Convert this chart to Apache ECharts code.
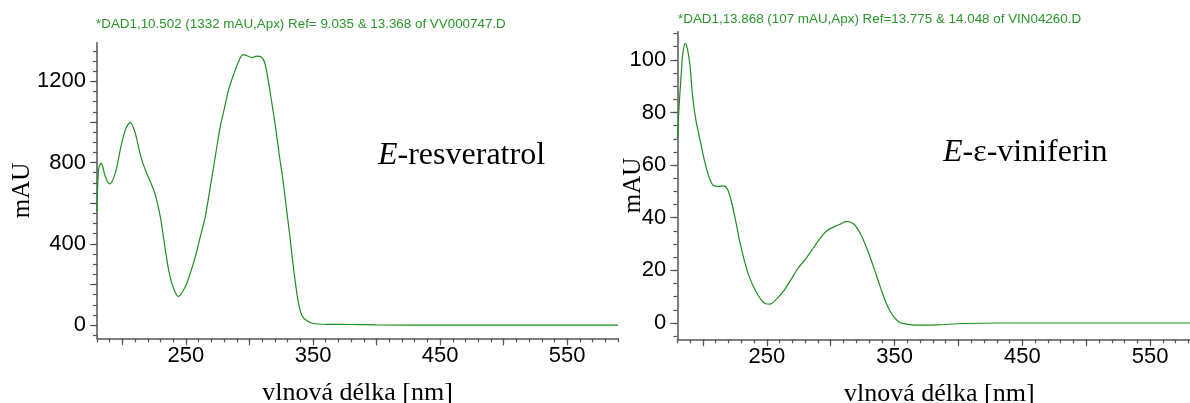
<!DOCTYPE html>
<html>
<head>
<meta charset="utf-8">
<script src="https://cdn.jsdelivr.net/npm/echarts@6.0.0/dist/echarts.min.js"></script>
<style>
  html, body { margin: 0; padding: 0; background: #fff; }
  #main { width: 1190px; height: 403px; }
</style>
</head>
<body>
<div id="main"></div>
<script>
// E-resveratrol spectrum (nm / mAU)
var resvNm = [180, 181.3, 183.4, 186.5, 189.9, 194.4, 198.3, 202.3, 206.2, 210.1, 214.1, 218, 221.9, 225.9, 229.8, 233, 236.4, 239.8, 244, 249.5, 253.4, 257.4, 261.3, 265.2, 269.2, 273.1, 277, 279.7, 283.6, 287.5, 291.5, 294.9, 298, 302, 305.9, 309, 311.8, 314.2, 317.6, 320.8, 323.6, 326.3, 328.9, 331.5, 333.9, 336.2, 338.6, 341.2, 345.2, 350.4, 360, 380, 400, 450, 500, 550, 590];
var resvAbs = [560, 770, 797, 731, 695, 748, 863, 961, 998, 945, 838, 764, 707, 641, 534, 403, 271, 189, 141, 189, 255, 337, 435, 534, 682, 830, 978, 1052, 1159, 1233, 1298, 1331, 1326, 1317, 1324, 1321, 1295, 1224, 1093, 961, 830, 715, 583, 452, 320, 205, 107, 49, 21, 8, 4, 3, 1, 0, 0, 0, 0];

// E-epsilon-viniferin spectrum (nm / mAU)
var vinNm = [180, 181.6, 183, 184.2, 186.3, 188.1, 190, 192, 194.6, 197.8, 201.1, 204.3, 207.7, 212.1, 216, 219.2, 222.6, 226, 229.1, 232.3, 236.2, 240.8, 245.2, 249.4, 252.5, 257.2, 262.9, 268.1, 274.6, 279.9, 286.4, 292.9, 298.1, 303.3, 307.2, 312.5, 317.8, 323, 328.2, 333.4, 338.7, 343.9, 349.1, 354.3, 362.1, 372.6, 383, 403.9, 430, 456, 500, 550, 590];
var vinAbs = [70, 84, 94, 102, 106.3, 103.8, 97.5, 86, 77, 69.6, 62, 56.3, 52.5, 51.9, 52.1, 50.9, 45.6, 38, 30.4, 24, 17.7, 12.6, 9.1, 7.3, 7.2, 8.9, 12, 15.8, 20.9, 24, 28.5, 32.9, 35.4, 36.7, 37.5, 38.6, 37.7, 34.2, 28.5, 21.5, 13.9, 7, 2.5, 0.2, -0.6, -0.8, -0.7, -0.2, 0, 0, 0, 0, 0];

// ticks and labels
var xLabels = [250, 350, 450, 550];
var xMajor = [200, 250, 300, 350, 400, 450, 500, 550];
var xMinor = [];
for (var v = 180; v <= 590; v += 10) xMinor.push(v);

var resvYLabels = [0, 400, 800, 1200];
var resvYMajor = [0, 200, 400, 600, 800, 1000, 1200];
var resvYMinor = [];
for (var a = -50; a <= 1350; a += 50) resvYMinor.push(a);

var vinYLabels = [0, 20, 40, 60, 80, 100];
var vinYMinor = [];
for (var b = -5; b <= 110; b += 5) vinYMinor.push(b);

var axisColor = '#555';
var lineColor = '#1e8f1e';
var sans = 'Liberation Sans, Arial, sans-serif';
var serif = 'Liberation Serif, Times New Roman, serif';

function pairs(xs, ys) {
  var out = [];
  for (var i = 0; i < xs.length; i++) out.push([xs[i], ys[i]]);
  return out;
}
function plain(val) { return String(val); }

function mainX(grid) {
  return {
    gridIndex: grid, type: 'value', min: 180, max: 590, position: 'bottom',
    axisLine: { onZero: false, lineStyle: { color: axisColor, width: 1.5 } },
    axisTick: { customValues: xMajor, length: 7, lineStyle: { color: axisColor, width: 1.2 } },
    axisLabel: { customValues: xLabels, formatter: plain, fontSize: 22, color: '#000', fontFamily: sans, margin: 7 },
    splitLine: { show: false },
    name: 'vlnová délka [nm]', nameLocation: 'middle', nameGap: 42, nameMoveOverlap: false,
    nameTextStyle: { fontFamily: serif, fontSize: 26, color: '#000' }
  };
}
function minorX(grid) {
  return {
    gridIndex: grid, type: 'value', min: 180, max: 590, position: 'bottom',
    axisLine: { show: false, onZero: false },
    axisTick: { customValues: xMinor, length: 4, lineStyle: { color: axisColor, width: 1.2 } },
    axisLabel: { show: false }, splitLine: { show: false }
  };
}
function mainY(grid, min, max, labels, major, gap) {
  return {
    gridIndex: grid, type: 'value', min: min, max: max, position: 'left',
    axisLine: { onZero: false, lineStyle: { color: axisColor, width: 1.5 } },
    axisTick: { customValues: major, length: 7, lineStyle: { color: axisColor, width: 1.2 } },
    axisLabel: { customValues: labels, formatter: plain, fontSize: 22, color: '#000', fontFamily: sans, margin: 11 },
    splitLine: { show: false },
    name: 'mAU', nameLocation: 'middle', nameRotate: 90, nameGap: gap, nameMoveOverlap: false,
    nameTextStyle: { fontFamily: serif, fontSize: 25, color: '#000' }
  };
}
function minorY(grid, min, max, minor) {
  return {
    gridIndex: grid, type: 'value', min: min, max: max, position: 'left',
    axisLine: { show: false, onZero: false },
    axisTick: { customValues: minor, length: 4, lineStyle: { color: axisColor, width: 1.2 } },
    axisLabel: { show: false }, splitLine: { show: false }
  };
}

var chart = echarts.init(document.getElementById('main'));

chart.setOption({
  animation: false,
  title: [{
    text: '*DAD1,10.502 (1332 mAU,Apx) Ref= 9.035 & 13.368 of VV000747.D',
    left: 96, top: 18, padding: 0,
    textStyle: { fontFamily: sans, fontSize: 13.4, fontWeight: 'normal', color: '#2a962a' }
  }, {
    text: '*DAD1,13.868 (107 mAU,Apx) Ref=13.775 & 14.048 of VIN04260.D',
    left: 678, top: 13, padding: 0,
    textStyle: { fontFamily: sans, fontSize: 13.4, fontWeight: 'normal', color: '#2a962a' }
  }, {
    text: '{i|E}-resveratrol',
    left: 378, top: 140, padding: 0,
    textStyle: {
      fontFamily: serif, fontSize: 32, fontWeight: 'normal', color: '#000',
      rich: { i: { fontFamily: serif, fontSize: 32, fontStyle: 'italic', color: '#000' } }
    }
  }, {
    text: '{i|E}-ε-viniferin',
    left: 943, top: 137, padding: 0,
    textStyle: {
      fontFamily: serif, fontSize: 32, fontWeight: 'normal', color: '#000',
      rich: { i: { fontFamily: serif, fontSize: 32, fontStyle: 'italic', color: '#000' } }
    }
  }],
  grid: [
    { left: 97, top: 42.7, width: 521, height: 295.6, outerBoundsMode: 'none', containLabel: false },
    { left: 677.3, top: 31.7, width: 524, height: 307.6, outerBoundsMode: 'none', containLabel: false }
  ],
  xAxis: [mainX(0), minorX(0), mainX(1), minorX(1)],
  yAxis: [
    mainY(0, -65, 1390, resvYLabels, resvYMajor, 62),
    minorY(0, -65, 1390, resvYMinor),
    mainY(1, -6.2, 110.7, vinYLabels, vinYLabels, 31),
    minorY(1, -6.2, 110.7, vinYMinor)
  ],
  series: [{
    type: 'line', xAxisIndex: 0, yAxisIndex: 0,
    data: pairs(resvNm, resvAbs),
    smooth: 0.3, showSymbol: false,
    lineStyle: { color: lineColor, width: 1.2 }
  }, {
    type: 'line', xAxisIndex: 2, yAxisIndex: 2,
    data: pairs(vinNm, vinAbs),
    smooth: 0.3, showSymbol: false,
    lineStyle: { color: lineColor, width: 1.2 }
  }]
});
</script>
</body>
</html>
